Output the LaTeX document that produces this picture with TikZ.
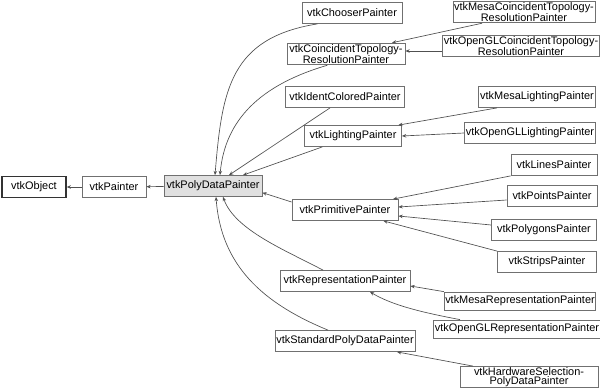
\documentclass[tikz,border=0pt]{standalone}
\usepackage{fontspec}
\setmainfont{Liberation Sans}
\usetikzlibrary{arrows.meta}
\definecolor{bordergray}{HTML}{707070}
\definecolor{edgegray}{HTML}{505050}
\definecolor{fillgray}{HTML}{E0E0E0}
\begin{document}
\begin{tikzpicture}[x=0.75pt,y=-0.75pt,
  box/.style={draw=bordergray,line width=0.6pt,fill=white,inner sep=0.8pt,
    minimum height=15.75pt,align=center,font=\fontsize{8.2}{6.3}\selectfont},
  edge/.style={draw=edgegray,line width=0.5pt,-{Stealth[length=3.2pt,width=2.6pt]}}]
\useasboundingbox (0,0) rectangle (600,390);
% nodes
\node[box,draw=black!80,line width=1pt,minimum width=48pt] (obj) at (34,187) {vtkObject};
\node[box,minimum width=48pt] (painter) at (114,187) {vtkPainter};
\node[box,fill=fillgray,minimum width=73.5pt] (pdp) at (213,186) {vtkPolyDataPainter};
\node[box,minimum width=75pt] (chooser) at (352,13) {vtkChooserPainter};
\node[box,minimum width=88.5pt] (coinc) at (346,54) {vtkCoincidentTopology-\\ResolutionPainter};
\node[box,minimum width=89.25pt] (ident) at (345,97) {vtkIdentColoredPainter};
\node[box,minimum width=72.75pt] (light) at (353,136) {vtkLightingPainter};
\node[box,minimum width=106.5pt] (mcoinc) at (524,12) {vtkMesaCoincidentTopology-\\ResolutionPainter};
\node[box,minimum width=114pt] (ocoinc) at (521,46) {vtkOpenGLCoincidentTopology-\\ResolutionPainter};
\node[box,minimum width=87.75pt] (mlight) at (537,97) {vtkMesaLightingPainter};
\node[box,minimum width=98.25pt] (olight) at (530,133) {vtkOpenGLLightingPainter};
\node[box,minimum width=79.5pt] (prim) at (345,210) {vtkPrimitivePainter};
\node[box,minimum width=64.5pt] (lines) at (554,165) {vtkLinesPainter};
\node[box,minimum width=67.5pt] (points) at (552,196) {vtkPointsPainter};
\node[box,minimum width=78.75pt] (polys) at (544,230) {vtkPolygonsPainter};
\node[box,minimum width=74.25pt] (strips) at (547,262) {vtkStripsPainter};
\node[box,minimum width=97.5pt] (rep) at (345,281) {vtkRepresentationPainter};
\node[box,minimum width=112.5pt,minimum height=13.5pt] (mrep) at (520,301) {vtkMesaRepresentationPainter};
\node[box,minimum width=119.25pt,minimum height=13.5pt] (orep) at (517,329) {vtkOpenGLRepresentationPainter};
\node[box,minimum width=105pt] (std) at (345,341) {vtkStandardPolyDataPainter};
\node[box,minimum width=103.5pt] (hw) at (529,377) {vtkHardwareSelection-\\PolyDataPainter};
% edges
\draw[edge] (painter) -- (obj);
\draw[edge] (pdp) -- (painter);
\draw[edge] ([xshift=-26pt]chooser.south) .. controls (230,38) and (222,90) .. ([xshift=1.5pt]pdp.north);
\draw[edge] ([xshift=-14pt]coinc.south) .. controls (260,85) and (225,120) .. ([xshift=5.25pt]pdp.north);
\draw[edge] ([xshift=-11.25pt]ident.south) -- ([xshift=12pt]pdp.north);
\draw[edge] ([xshift=-23pt]light.south) -- ([xshift=22.5pt]pdp.north);
\draw[edge] ([yshift=6pt]prim.west) -- ([yshift=-5pt]pdp.east);
\draw[edge] ([xshift=-16.5pt]rep.north) .. controls (285,250) and (235,230) .. ([xshift=7.5pt]pdp.south);
\draw[edge] ([xshift=-12.75pt]std.north) .. controls (262,303) and (221,265) .. ([xshift=2.25pt]pdp.south);
\draw[edge] ([xshift=-31.5pt]mcoinc.south) -- ([xshift=34.5pt]coinc.north);
\draw[edge] ([yshift=-3.75pt]ocoinc.west) -- ([yshift=2.25pt]coinc.east);
\draw[edge] ([xshift=-30pt]mlight.south) -- ([xshift=34pt]light.north);
\draw[edge] (olight.west) -- (light.east);
\draw[edge] (lines.south west) -- ([xshift=-4pt]prim.north east);
\draw[edge] ([yshift=-3pt]points.west) -- ([yshift=2.25pt]prim.east);
\draw[edge] ([yshift=3.75pt]polys.west) -- ([yshift=-4.5pt]prim.east);
\draw[edge] (strips.north west) -- ([xshift=-11.25pt]prim.south east);
\draw[edge] (mrep.north west) -- ([yshift=-3.75pt]rep.east);
\draw[edge] ([xshift=-42.75pt]orep.north) .. controls (420,312) and (392,305) .. ([xshift=18.75pt]rep.south);
\draw[edge] ([xshift=-42pt]hw.north) -- ([xshift=39pt]std.south);
\end{tikzpicture}
\end{document}
